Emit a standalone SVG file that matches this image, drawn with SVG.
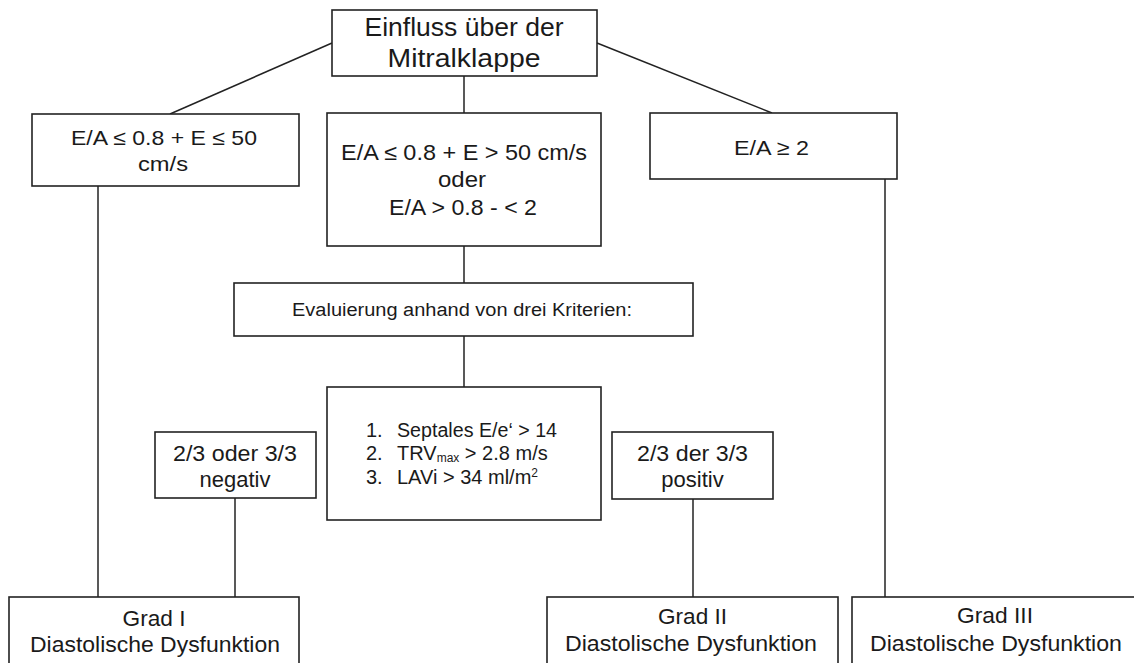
<svg xmlns="http://www.w3.org/2000/svg" width="1134" height="663" viewBox="0 0 1134 663">
<style>
rect{fill:#fff;stroke:#222;stroke-width:1.6}
.c line{stroke:#222;stroke-width:1.5}
text{font-family:"Liberation Sans",Arial,sans-serif;fill:#1a1a1a;text-anchor:middle}
.l{text-anchor:start}
</style>
<rect x="0" y="0" width="1134" height="663" style="fill:#fff;stroke:none"/>
<g class="c" id="connectors">
<line x1="332" y1="43" x2="170" y2="114"/>
<line x1="597" y1="43" x2="772" y2="113"/>
<line x1="464" y1="76" x2="464" y2="113"/>
<line x1="98" y1="186" x2="98" y2="597"/>
<line x1="885" y1="179" x2="885" y2="597"/>
<line x1="464" y1="246" x2="464" y2="283"/>
<line x1="464" y1="336" x2="464" y2="387"/>
<line x1="235" y1="498" x2="235" y2="597"/>
<line x1="693" y1="499" x2="693" y2="597"/>
</g>
<g id="n-top">
<rect x="332" y="10" width="265" height="66"/>
<text x="464" y="36" font-size="25" textLength="199" lengthAdjust="spacingAndGlyphs">Einfluss über der</text>
<text x="464" y="67" font-size="25" textLength="153" lengthAdjust="spacingAndGlyphs">Mitralklappe</text>
</g>
<g id="n-left">
<rect x="32" y="114" width="267" height="72"/>
<text x="164" y="145" font-size="21" textLength="186" lengthAdjust="spacingAndGlyphs">E/A ≤ 0.8 + E ≤ 50</text>
<text x="163" y="171" font-size="21" textLength="50" lengthAdjust="spacingAndGlyphs">cm/s</text>
</g>
<g id="n-mid">
<rect x="327" y="113" width="274" height="133"/>
<text x="464" y="160" font-size="22" textLength="246" lengthAdjust="spacingAndGlyphs">E/A ≤ 0.8 + E &gt; 50 cm/s</text>
<text x="462" y="187" font-size="22" textLength="48" lengthAdjust="spacingAndGlyphs">oder</text>
<text x="463" y="215" font-size="22" textLength="148" lengthAdjust="spacingAndGlyphs">E/A &gt; 0.8 - &lt; 2</text>
</g>
<g id="n-right">
<rect x="650" y="113" width="247" height="66"/>
<text x="771.5" y="155" font-size="21" textLength="75" lengthAdjust="spacingAndGlyphs">E/A ≥ 2</text>
</g>
<g id="n-eval">
<rect x="234" y="283" width="459" height="53"/>
<text x="462" y="316" font-size="18" textLength="340" lengthAdjust="spacingAndGlyphs">Evaluierung anhand von drei Kriterien:</text>
</g>
<g id="n-criteria">
<rect x="327" y="387" width="274" height="133"/>
<text class="l" x="366" y="437" font-size="20">1.</text>
<text class="l" x="366" y="460" font-size="20">2.</text>
<text class="l" x="366" y="484" font-size="20">3.</text>
<text class="l" x="397" y="437" font-size="20" textLength="160" lengthAdjust="spacingAndGlyphs">Septales E/e‘ &gt; 14</text>
<text class="l" x="397" y="460" font-size="20">TRV<tspan font-size="12" dy="2">max</tspan><tspan dy="-2"> &gt; 2.8 m/s</tspan></text>
<text class="l" x="397" y="484" font-size="20">LAVi &gt; 34 ml/m<tspan font-size="12" dy="-7">2</tspan></text>
</g>
<g id="n-neg">
<rect x="155" y="432" width="161" height="66"/>
<text x="235" y="461" font-size="22" textLength="124" lengthAdjust="spacingAndGlyphs">2/3 oder 3/3</text>
<text x="235" y="487" font-size="22">negativ</text>
</g>
<g id="n-pos">
<rect x="612" y="432" width="161" height="67"/>
<text x="692.5" y="461" font-size="22" textLength="111" lengthAdjust="spacingAndGlyphs">2/3 der 3/3</text>
<text x="692.5" y="487" font-size="22">positiv</text>
</g>
<g id="n-g1">
<rect x="9" y="597" width="290" height="80"/>
<text x="154" y="626" font-size="22" textLength="63" lengthAdjust="spacingAndGlyphs">Grad I</text>
<text x="155" y="652" font-size="22" textLength="250" lengthAdjust="spacingAndGlyphs">Diastolische Dysfunktion</text>
</g>
<g id="n-g2">
<rect x="547" y="597" width="291" height="80"/>
<text x="692.5" y="624" font-size="22" textLength="69" lengthAdjust="spacingAndGlyphs">Grad II</text>
<text x="691" y="651" font-size="22" textLength="252" lengthAdjust="spacingAndGlyphs">Diastolische Dysfunktion</text>
</g>
<g id="n-g3">
<rect x="852" y="597" width="290" height="80"/>
<text x="995" y="623" font-size="22" textLength="76" lengthAdjust="spacingAndGlyphs">Grad III</text>
<text x="996" y="651" font-size="22" textLength="252" lengthAdjust="spacingAndGlyphs">Diastolische Dysfunktion</text>
</g>
</svg>
